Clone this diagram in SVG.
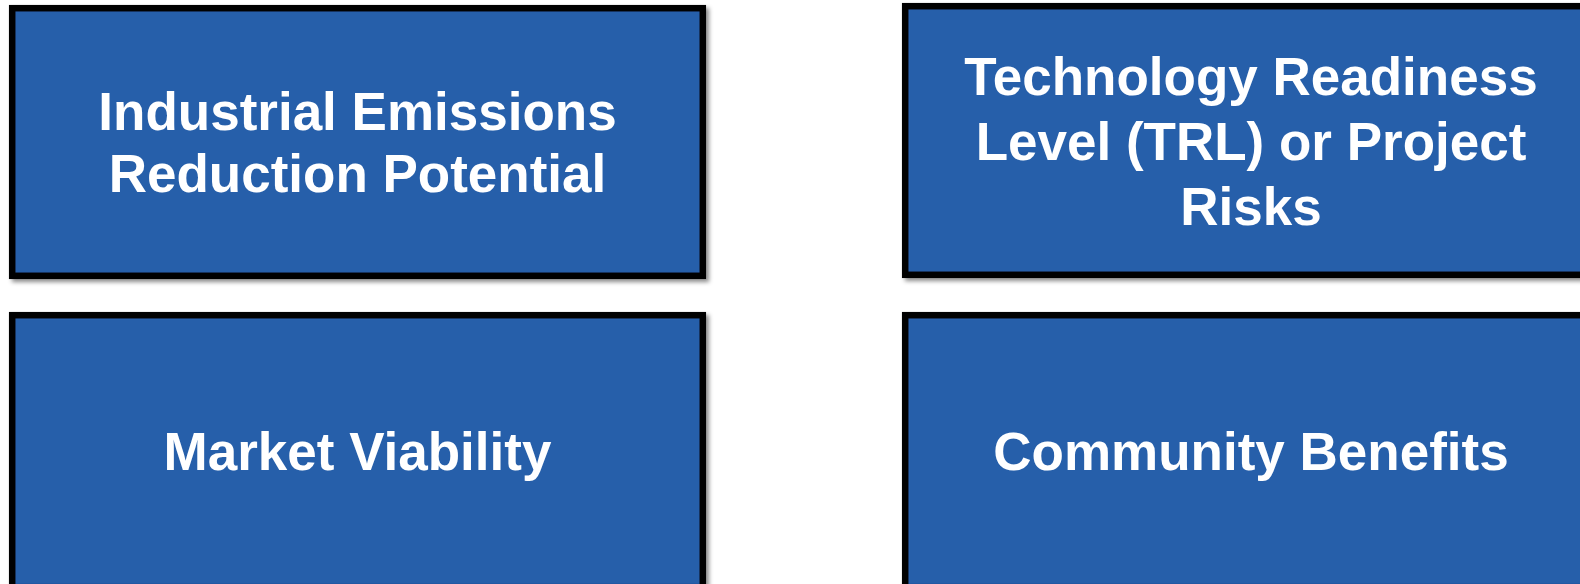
<svg xmlns="http://www.w3.org/2000/svg" width="1580" height="584" viewBox="0 0 1580 584">
  <defs>
    <filter id="sh" x="-5%" y="-5%" width="115%" height="115%">
      <feDropShadow dx="3" dy="3" stdDeviation="2.2" flood-color="#000" flood-opacity="0.45"/>
    </filter>
    <style>
      .box { fill: #265EAA; stroke: #000; stroke-width: 6.5; filter: url(#sh); }
      .lbl { fill: #fff; font-family: "Liberation Sans", Arial, sans-serif; font-weight: bold; font-size: 53px; text-anchor: middle; }
    </style>
  </defs>
  <rect width="1580" height="584" fill="#fff"/>
  <g id="connectors"></g>
  <g id="node-emissions">
    <rect class="box" x="12.2" y="8.2" width="690.6" height="267.6"/>
    <text class="lbl" x="357.5" y="130">Industrial Emissions</text>
    <text class="lbl" x="357.5" y="192">Reduction Potential</text>
  </g>
  <g id="node-trl">
    <rect class="box" x="905.2" y="6.2" width="692" height="268.6"/>
    <text class="lbl" x="1251" y="95">Technology Readiness</text>
    <text class="lbl" x="1251" y="160">Level (TRL) or Project</text>
    <text class="lbl" x="1251" y="225">Risks</text>
  </g>
  <g id="node-market">
    <rect class="box" x="12.2" y="315.2" width="690.6" height="272"/>
    <text class="lbl" x="357.5" y="470">Market Viability</text>
  </g>
  <g id="node-community">
    <rect class="box" x="905.2" y="315.2" width="692" height="272"/>
    <text class="lbl" x="1251" y="470">Community Benefits</text>
  </g>
</svg>
